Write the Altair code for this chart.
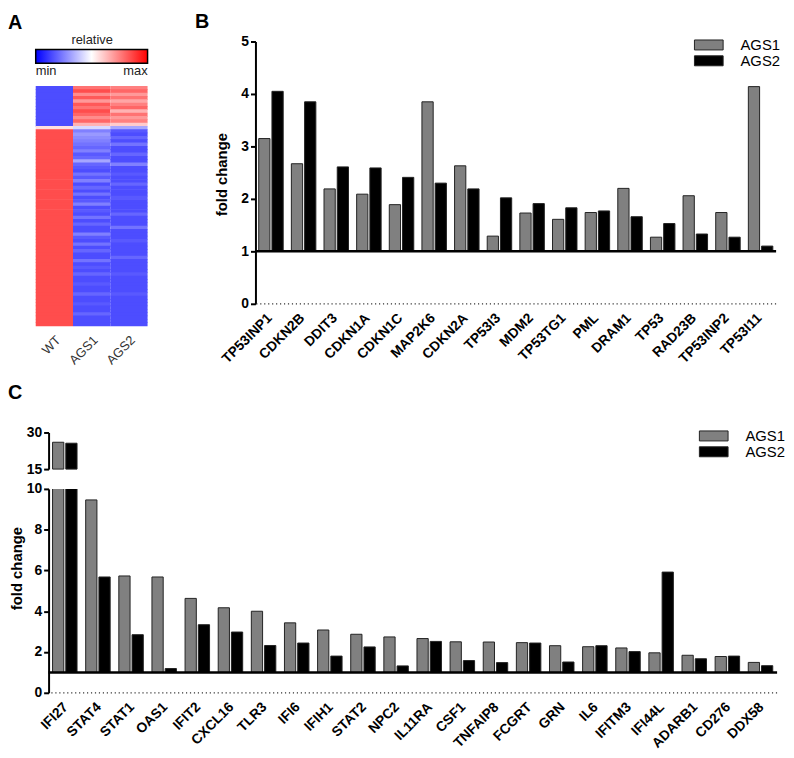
import altair as alt
import pandas as pd

FONT = "Liberation Sans"

# ---------------- Panel A: heatmap ----------------
samples = ["WT", "AGS1", "AGS2"]
wt_vals = [
    -0.7, -0.7, -0.7, -0.7, -0.7, -0.7, -0.7, -0.7, -0.7, -0.7, -0.7, -0.7,
    0.12,
    0.7, 0.7, 0.7, 0.7, 0.7, 0.7, 0.7, 0.7, 0.7, 0.7, 0.7, 0.7,
    0.7, 0.7, 0.7, 0.7, 0.7, 0.7, 0.7, 0.7, 0.7, 0.7, 0.7, 0.7,
    0.7, 0.7, 0.7, 0.7, 0.7, 0.7, 0.7, 0.7, 0.7, 0.7, 0.7, 0.7,
    0.7, 0.7, 0.7, 0.7, 0.7, 0.7, 0.7, 0.7, 0.7, 0.7, 0.7, 0.7,
    0.7, 0.7, 0.7, 0.7, 0.7, 0.7, 0.7, 0.7, 0.7, 0.7, 0.7,
]
ags1_vals = [
    0.55, 0.7, 0.45, 0.65, 0.4, 0.65, 0.55, 0.7, 0.6, 0.45, 0.6, 0.3,
    -0.15,
    -0.5, -0.4, -0.45, -0.5, -0.55, -0.6, -0.5, -0.65, -0.6, -0.35, -0.6, -0.65,
    -0.7, -0.55, -0.65, -0.5, -0.7, -0.6, -0.7, -0.55, -0.7, -0.65, -0.5, -0.7,
    -0.65, -0.7, -0.55, -0.7, -0.6, -0.7, -0.7, -0.5, -0.65, -0.7, -0.55, -0.7,
    -0.6, -0.7, -0.7, -0.55, -0.7, -0.65, -0.7, -0.6, -0.7, -0.7, -0.65, -0.7,
    -0.7, -0.6, -0.7, -0.7, -0.65, -0.7, -0.7, -0.6, -0.7, -0.7, -0.7,
]
ags2_vals = [
    0.5, 0.6, 0.4, 0.55, 0.35, 0.5, 0.6, 0.3, 0.55, 0.4, 0.5, 0.2,
    -0.35,
    -0.65, -0.7, -0.6, -0.7, -0.55, -0.7, -0.7, -0.6, -0.7, -0.7, -0.5, -0.7,
    -0.7, -0.65, -0.7, -0.7, -0.6, -0.7, -0.7, -0.7, -0.65, -0.7, -0.7, -0.7,
    -0.7, -0.6, -0.7, -0.7, -0.7, -0.55, -0.7, -0.7, -0.7, -0.65, -0.7, -0.7,
    -0.7, -0.7, -0.6, -0.7, -0.7, -0.7, -0.7, -0.65, -0.7, -0.7, -0.7, -0.7,
    -0.7, -0.65, -0.7, -0.7, -0.7, -0.7, -0.7, -0.7, -0.7, -0.7, -0.7,
]

# ---------------- Panel B ----------------
genes_b = ["TP53INP1", "CDKN2B", "DDIT3", "CDKN1A", "CDKN1C", "MAP2K6", "CDKN2A",
           "TP53I3", "MDM2", "TP53TG1", "PML", "DRAM1", "TP53", "RAD23B",
           "TP53INP2", "TP53I11"]
ags1_b = [3.15, 2.67, 2.19, 2.09, 1.89, 3.85, 2.63, 1.29, 1.73, 1.61, 1.74,
          2.20, 1.27, 2.06, 1.74, 4.14]
ags2_b = [4.05, 3.85, 2.61, 2.59, 2.41, 2.30, 2.19, 2.02, 1.91, 1.83, 1.77,
          1.66, 1.53, 1.33, 1.27, 1.10]

# ---------------- Panel C ----------------
genes_c = ["IFI27", "STAT4", "STAT1", "OAS1", "IFIT2", "CXCL16", "TLR3", "IFI6",
           "IFIH1", "STAT2", "NPC2", "IL11RA", "CSF1", "TNFAIP8", "FCGRT", "GRN",
           "IL6", "IFITM3", "IFI44L", "ADARB1", "CD276", "DDX58"]
ags1_c = [26.0, 9.46, 5.73, 5.68, 4.63, 4.17, 4.00, 3.43, 3.08, 2.87, 2.74,
          2.66, 2.50, 2.49, 2.46, 2.31, 2.26, 2.20, 1.96, 1.84, 1.78, 1.49]
ags2_c = [25.6, 5.68, 2.85, 1.19, 3.34, 2.98, 2.32, 2.44, 1.80, 2.25, 1.32,
          2.52, 1.58, 1.48, 2.44, 1.51, 2.31, 2.02, 5.92, 1.67, 1.80, 1.33]

series = ["AGS1", "AGS2"]
series_colors = ["#808080", "#000000"]
baseline = [1]
zero_line = [0]

# ---------------- tables ----------------
n_rows = len(wt_vals)
df_a = pd.DataFrame({
    "row": list(range(n_rows)) * 3,
    "sample": ["WT"] * n_rows + ["AGS1"] * n_rows + ["AGS2"] * n_rows,
    "val": wt_vals + ags1_vals + ags2_vals,
})
df_b = pd.DataFrame({
    "gene": genes_b * 2,
    "series": ["AGS1"] * len(genes_b) + ["AGS2"] * len(genes_b),
    "value": ags1_b + ags2_b,
})
df_c = pd.DataFrame({
    "gene": genes_c * 2,
    "series": ["AGS1"] * len(genes_c) + ["AGS2"] * len(genes_c),
    "value": ags1_c + ags2_c,
})
df_base = pd.DataFrame({"y": baseline})
df_zero = pd.DataFrame({"y": zero_line})

color_scale = alt.Scale(domain=series, range=series_colors)
# wide flat rectangle used as legend swatch
bar_symbol = "M-1,-0.72L3.14,-0.72L3.14,0.72L-1,0.72Z"


def bar_legend(lx, ly):
    return alt.Legend(title=None, orient="none", legendX=lx, legendY=ly,
                      symbolType=bar_symbol, symbolSize=196,
                      symbolStrokeColor="#222", symbolStrokeWidth=1,
                      symbolOpacity=1,
                      labelFont=FONT, labelFontSize=15, labelColor="black",
                      labelOffset=32, rowPadding=0, padding=0)


def panel_title(letter, dx, offset):
    return alt.TitleParams(letter, anchor="start", frame="group", font=FONT,
                           fontSize=20, fontWeight="bold", color="black",
                           baseline="alphabetic", dx=dx, offset=offset)


def x_axis(size, loff):
    return alt.Axis(title=None, domain=False, ticks=False, labelAngle=-45,
                    labelAlign="right", labelBaseline="top", labelPadding=7,
                    labelOffset=loff,
                    labelFont=FONT, labelFontSize=size, labelFontWeight="bold",
                    labelColor="black")


def y_axis(values, title=None, title_y=None, title_pad=8):
    kw = dict(values=values, grid=False, domainColor="black", domainWidth=2,
              tickColor="black", tickWidth=2, tickSize=5, labelFont=FONT,
              labelFontSize=14, labelFontWeight="bold", labelColor="black",
              labelPadding=2)
    if title is None:
        kw["title"] = None
    else:
        kw.update(title=title, titleFont=FONT, titleFontSize=15,
                  titleFontWeight="bold", titleColor="black",
                  titlePadding=title_pad, titleY=title_y)
    return alt.Axis(**kw)


heat_scale = alt.Scale(domain=[-1, 0, 1], range=["#0000ff", "#ffffff", "#ff0000"],
                       interpolate="rgb")

# ---------------- Panel A chart ----------------
# rows fill the lower part of the panel; the top leaves room for the colour bar.
# Each row slightly overlaps the next one to avoid hairline seams.
heat = alt.Chart(df_a).transform_calculate(row2="datum.row + 1.2").mark_rect().encode(
    x=alt.X("sample:N", sort=samples,
            axis=alt.Axis(title=None, domain=False, ticks=False, labelAngle=-45,
                          labelAlign="right", labelBaseline="top",
                          labelPadding=8, labelFont=FONT, labelFontSize=13,
                          labelFontWeight="normal", labelColor="#333")),
    y=alt.Y("row:Q", axis=None,
            scale=alt.Scale(domain=[-13.39, n_rows], reverse=True, nice=False,
                            zero=False)),
    y2="row2:Q",
    color=alt.Color("val:Q", scale=heat_scale,
                    legend=alt.Legend(title="relative", orient="none",
                                      direction="horizontal", legendX=0,
                                      legendY=-7, gradientLength=113,
                                      gradientThickness=14,
                                      gradientStrokeColor="black",
                                      gradientStrokeWidth=1.5,
                                      values=[-1, 1],
                                      labelExpr="datum.value < 0 ? 'min' : 'max'",
                                      titleAnchor="middle", titleFont=FONT,
                                      titleFontSize=13, titleFontWeight="normal",
                                      titleColor="#222", titlePadding=2,
                                      labelFont=FONT, labelFontSize=13,
                                      labelColor="#222", padding=0)),
).properties(width=113, height=287, title=panel_title("A", -28, -14))

# ---------------- Panel B chart ----------------
xb = alt.X("gene:N", sort=genes_b,
           scale=alt.Scale(domain=genes_b, paddingInner=0.25, paddingOuter=0.1),
           axis=x_axis(14, -6))
bars_b = alt.Chart(df_b).mark_bar(stroke="#222", strokeWidth=1).encode(
    x=xb,
    xOffset=alt.XOffset("series:N", scale=alt.Scale(domain=series, paddingInner=0.15)),
    y=alt.Y("value:Q", scale=alt.Scale(domain=[0, 5], nice=False),
            axis=y_axis([0, 1, 2, 3, 4, 5], "fold change", 134, 11)),
    y2=alt.datum(1),
    color=alt.Color("series:N", scale=color_scale, legend=bar_legend(443, -4)),
)
base_b = alt.Chart(df_base).mark_rule(color="black", strokeWidth=2.5).encode(y="y:Q")
zero_b = alt.Chart(df_zero).mark_rule(color="#333", strokeWidth=1.2,
                                      strokeDash=[1.2, 2.8]).encode(y="y:Q")
panel_b = alt.layer(zero_b, bars_b, base_b).properties(
    width=526, height=265, title=panel_title("B", -61, -13))

# ---------------- Panel C charts ----------------
xc_scale = alt.Scale(domain=genes_c, paddingInner=0.25, paddingOuter=0.12)
xoff_c = alt.XOffset("series:N", scale=alt.Scale(domain=series, paddingInner=0.15))

c_upper = alt.Chart(df_c).transform_filter("datum.value > 15").mark_bar(
    stroke="#222", strokeWidth=1).encode(
    x=alt.X("gene:N", sort=genes_c, scale=xc_scale, axis=None),
    xOffset=xoff_c,
    y=alt.Y("value:Q", scale=alt.Scale(domain=[15, 30], nice=False, zero=False),
            axis=y_axis([15, 30])),
    y2=alt.datum(15),
    color=alt.Color("series:N", scale=color_scale, legend=bar_legend(657, -4)),
).properties(width=736, height=37, title=panel_title("C", -41, 6.5))

bars_c = alt.Chart(df_c).mark_bar(stroke="#222", strokeWidth=1, clip=True).encode(
    x=alt.X("gene:N", sort=genes_c, scale=xc_scale, axis=x_axis(14, -4)),
    xOffset=xoff_c,
    y=alt.Y("value:Q", scale=alt.Scale(domain=[0, 10], nice=False),
            axis=y_axis([0, 2, 4, 6, 8, 10], "fold change", 80, 2)),
    y2=alt.datum(1),
    color=alt.Color("series:N", scale=color_scale, legend=None),
)
base_c = alt.Chart(df_base).mark_rule(color="black", strokeWidth=2.5).encode(y="y:Q")
zero_c = alt.Chart(df_zero).mark_rule(color="#333", strokeWidth=1.2,
                                      strokeDash=[1.2, 2.8]).encode(y="y:Q")
c_lower = alt.layer(zero_c, bars_c, base_c).properties(width=736, height=206)

# invisible indent so that panel C's axis sits right of the heatmap's left edge
indent = alt.Chart(df_zero).mark_point(opacity=0, size=1).encode(
    x=alt.X("y:Q", axis=None), y=alt.Y("y:Q", axis=None)
).properties(width=13, height=10)

top_row = alt.hconcat(heat, panel_b, spacing=109, bounds="flush").resolve_scale(
    color="independent")
c_stack = alt.vconcat(c_upper, c_lower, spacing=20, bounds="flush").resolve_scale(
    color="independent")
c_block = alt.hconcat(indent, c_stack, spacing=0, bounds="flush").resolve_scale(
    color="independent")

chart = alt.vconcat(top_row, c_block, spacing=16).resolve_scale(
    color="independent"
).properties(padding=0).configure(font=FONT).configure_view(stroke=None)

chart.save("out.html", embed_options={"renderer": "svg", "actions": False})
